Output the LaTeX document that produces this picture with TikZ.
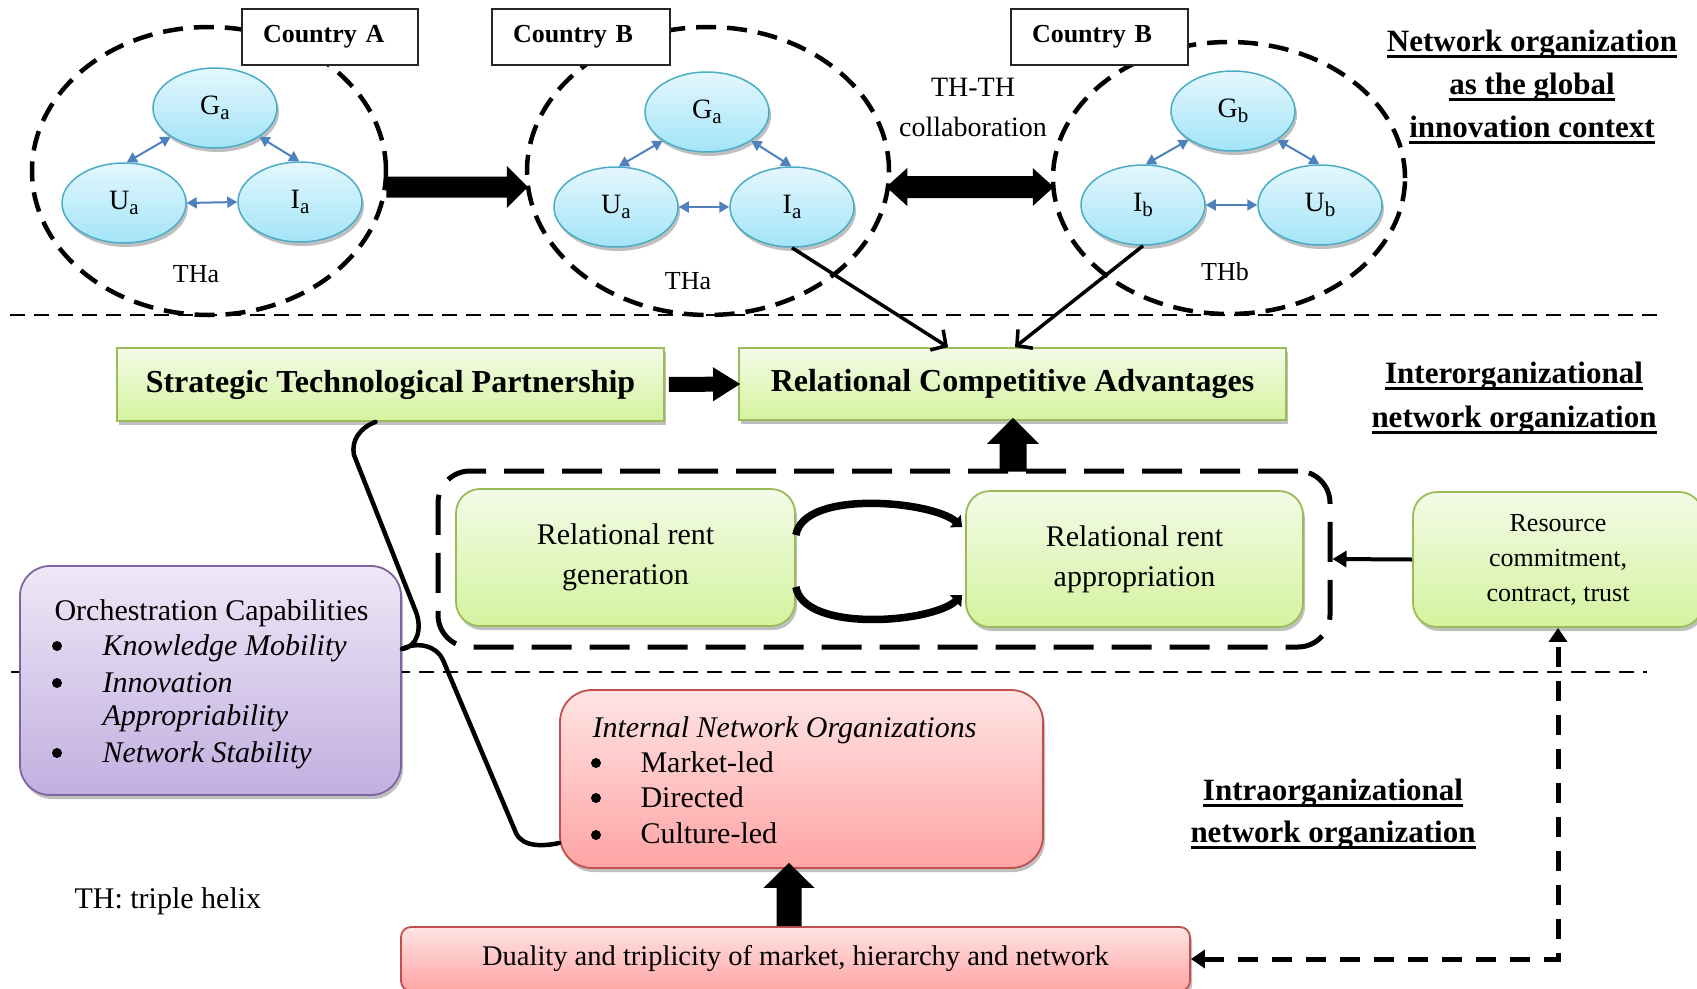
\documentclass[tikz,border=0pt]{standalone}
\usepackage{fontspec}
\setmainfont{Liberation Serif}
\usetikzlibrary{shapes.geometric,arrows.meta,calc,shadows}

\definecolor{helixtop}{HTML}{E4F7FD}
\definecolor{helixbot}{HTML}{A3E4F8}
\definecolor{helixline}{HTML}{4BACC6}
\definecolor{linkblue}{HTML}{4F81BD}
\definecolor{greentop}{HTML}{F3FBE7}
\definecolor{greenbot}{HTML}{D4F39E}
\definecolor{greenline}{HTML}{9BBB59}
\definecolor{violettop}{HTML}{EEE8F7}
\definecolor{violetbot}{HTML}{C2AFE0}
\definecolor{violetline}{HTML}{8064A2}
\definecolor{rosetop}{HTML}{FFE4E4}
\definecolor{rosebot}{HTML}{FFA4A4}
\definecolor{roseline}{HTML}{C0504D}

\newcommand\setfs[2]{\fontsize{#1}{#2}\selectfont}
\newcommand\helixsub[2]{#1\raisebox{-5pt}{\setfs{21}{21}#2}}
\newsavebox\ulinebox
\newcommand\thickul[1]{\sbox\ulinebox{#1}\rlap{\rule[-7pt]{\wd\ulinebox}{3.5pt}}\usebox\ulinebox}

% filled block arrow: from, to, half shaft, half head, head length
\newcommand\blkarrow[5]{%
  \path ($(#2)!#5!(#1)$) coordinate (bkhead);
  \fill ($(#1)!#3!90:(#2)$) -- ($(bkhead)!#3!90:(#2)$) -- ($(bkhead)!#4!90:(#2)$) -- (#2)
    -- ($(bkhead)!#4!-90:(#2)$) -- ($(bkhead)!#3!-90:(#2)$) -- ($(#1)!#3!-90:(#2)$) -- cycle;}
% filled double-headed block arrow
\newcommand\blkdarrow[5]{%
  \path ($(#2)!#5!(#1)$) coordinate (bkhead) ($(#1)!#5!(#2)$) coordinate (bktail);
  \fill (#1) -- ($(bktail)!#4!90:(#2)$) -- ($(bktail)!#3!90:(#2)$) -- ($(bkhead)!#3!90:(#2)$)
    -- ($(bkhead)!#4!90:(#2)$) -- (#2) -- ($(bkhead)!#4!-90:(#2)$) -- ($(bkhead)!#3!-90:(#2)$)
    -- ($(bktail)!#3!-90:(#2)$) -- ($(bktail)!#4!-90:(#2)$) -- cycle;}

\tikzset{
  softshadow/.style={drop shadow={shadow xshift=2pt, shadow yshift=-4pt, opacity=0.25, fill=black}},
  zone/.style={ellipse, draw, line width=4.5pt, dash pattern=on 20pt off 11pt, inner sep=0pt},
  helix/.style={ellipse, draw=helixline, line width=1.5pt, top color=helixtop, bottom color=helixbot,
    minimum width=124pt, minimum height=80pt, inner sep=0pt, softshadow, font=\setfs{28}{30}},
  country/.style={draw=black!85, line width=1.2pt, fill=white, minimum height=56pt, inner xsep=21pt,
    inner ysep=0pt, align=left, font=\bfseries\setfs{26}{28}},
  link/.style={draw=linkblue, line width=2pt, {Triangle[length=10pt,width=11pt]}-{Triangle[length=10pt,width=11pt]}},
  sep/.style={line width=1.5pt, dash pattern=on 15pt off 9pt},
  greenbox/.style={draw=greenline, line width=1.8pt, top color=greentop, bottom color=greenbot,
    inner sep=0pt, softshadow},
  violetbox/.style={draw=violetline, line width=1.8pt, top color=violettop, bottom color=violetbot,
    inner sep=0pt, rounded corners=30pt, softshadow},
  rosebox/.style={draw=roseline, line width=1.8pt, top color=rosetop, bottom color=rosebot,
    inner sep=0pt, softshadow},
  body/.style={font=\setfs{30}{30}},
  dot/.style={circle, fill=black, inner sep=0pt, minimum size=10pt},
  heading/.style={font=\bfseries\setfs{31}{43}, align=center},
  feed/.style={line width=4pt, -{Triangle[length=14pt,width=16pt]}},
  toward/.style={line width=3.5pt, -{Straight Barb[length=11pt,width=24pt]}},
  cycle arrow/.style={line width=7.5pt, -{Triangle[length=9pt,width=16pt]}},
  brace/.style={line width=4.5pt, line join=round, line cap=round},
  loopback/.style={line width=5pt, dash pattern=on 20pt off 14pt,
    {Triangle[length=14pt,width=18pt]}-{Triangle[length=14pt,width=18pt]}},
}

\begin{document}
\begin{tikzpicture}[x=1pt, y=-1pt]
\useasboundingbox (0,0) rectangle (1697,988);

% level separators
\coordinate (s1l) at (10,315);  \coordinate (s1r) at (1661,315);
\coordinate (s2l) at (11,672);  \coordinate (s2r) at (1647,672);
\draw[sep] (s1l) -- (s1r);
\draw[sep] (s2l) -- (s2r);

% triple helix regions
\node[zone, minimum width=354pt, minimum height=288pt] (zA) at (209,171) {};
\node[zone, minimum width=362pt, minimum height=288pt] (zB) at (708,171) {};
\node[zone, minimum width=352pt, minimum height=272pt] (zC) at (1229,178) {};

% helix actors
\node[helix] (GA) at (215,108) {\helixsub{G}{a}};
\node[helix] (UA) at (124,203) {\helixsub{U}{a}};
\node[helix] (IA) at (300,202) {\helixsub{I}{a}};
\node[helix] (GB) at (707,112) {\helixsub{G}{a}};
\node[helix] (UB) at (616,207) {\helixsub{U}{a}};
\node[helix] (IB) at (792,207) {\helixsub{I}{a}};
\node[helix] (GC) at (1233,111) {\helixsub{G}{b}};
\node[helix] (IC) at (1143,205) {\helixsub{I}{b}};
\node[helix] (UC) at (1320,205) {\helixsub{U}{b}};

\draw[link] (UA.86) -- (GA.213);
\draw[link] (GA.-33) -- (IA.91);
\draw[link] (UA.east) -- (IA.west);
\draw[link] (UB.86) -- (GB.213);
\draw[link] (GB.-33) -- (IB.91);
\draw[link] (UB.east) -- (IB.west);
\draw[link] (IC.86) -- (GC.213);
\draw[link] (GC.-33) -- (UC.91);
\draw[link] (IC.east) -- (UC.west);

\node[font=\setfs{26}{28}] (lblA) at (196,274) {THa};
\node[font=\setfs{26}{28}] (lblB) at (688,281) {THa};
\node[font=\setfs{26}{28}] (lblC) at (1225,272) {THb};

% country tags
\node[country, text width=134pt] (cA) at (330,37) {Country A};
\node[country, text width=136pt] (cB) at (581,37) {Country B};
\node[country, text width=135pt] (cC) at (1099.5,37) {Country B};

\node[font=\setfs{28}{40}, align=center] (thth) at (973,107) {TH-TH\\collaboration};

% block arrows between the helices
\coordinate (h2s) at ([xshift=-2pt,yshift=-16pt]zA.east);
\coordinate (h2e) at ([xshift=3pt,yshift=-16pt]zB.west);
\blkarrow{h2s}{h2e}{10.5pt}{21pt}{21pt}
\coordinate (d1) at ([xshift=-5pt,yshift=-16pt]zB.east);
\coordinate (d2) at ([xshift=3pt,yshift=-9pt]zC.west);
\blkdarrow{d1}{d2}{11pt}{19pt}{21pt}

% level headings
\node[heading] (hdr1) at (1532,87) {\thickul{Network organization}\\\thickul{as the global}\\\thickul{innovation context}};
\node[heading, font=\bfseries\setfs{31}{44}] (hdr2) at (1514,398) {\thickul{Interorganizational}\\\thickul{network organization}};
\node[heading, font=\bfseries\setfs{31}{42}] (hdr3) at (1333,814) {\thickul{Intraorganizational}\\\thickul{network organization}};

% interorganizational level
\node[greenbox, minimum width=547pt, minimum height=73pt, font=\bfseries\setfs{32}{36}] (stp) at (390.5,384.5) {Strategic Technological Partnership};
\node[greenbox, minimum width=547pt, minimum height=72pt, font=\bfseries\setfs{32}{36}] (rca) at (1012.5,384) {Relational Competitive Advantages};

\node[draw, line width=5pt, dash pattern=on 40pt off 18pt, rounded corners=32pt, minimum width=892pt, minimum height=176pt, inner sep=0pt] (zone) at (884,559) {};

\node[greenbox, rounded corners=24pt, minimum width=339pt, minimum height=137pt, align=center, font=\setfs{30}{40}] (rrg) at (625.5,557.5) {Relational rent\\generation};
\node[greenbox, rounded corners=24pt, minimum width=337pt, minimum height=136pt, align=center, font=\setfs{30}{40}] (rra) at (1134.5,559) {Relational rent\\appropriation};
\node[greenbox, rounded corners=24pt, minimum width=290pt, minimum height=135pt, align=center, font=\setfs{26}{35}] (res) at (1558,559.5) {Resource\\commitment,\\contract, trust};

\draw[toward] (IB.south) -- ([xshift=-64.5pt]rca.north);
\draw[toward] (IC.south) -- ([xshift=2.5pt]rca.north);

\coordinate (h1s) at ([xshift=4pt]stp.east);
\coordinate (h1e) at ([xshift=2pt]rca.west);
\blkarrow{h1s}{h1e}{7.5pt}{17pt}{27pt}

\coordinate (u1s) at ([xshift=129pt,yshift=-3pt]zone.north);
\coordinate (u1e) at ([xshift=0.5pt,yshift=3pt]rca.south);
\blkarrow{u1s}{u1e}{13.5pt}{26pt}{26pt}

% rent generation / appropriation loop
\draw[cycle arrow] ([yshift=22.5pt]rrg.east) .. controls +(8,-46) and +(-30,-26) .. ([xshift=-3pt,yshift=32pt]rra.west);
\draw[cycle arrow] ([yshift=-29.5pt]rrg.east) .. controls +(8,46) and +(-30,28) .. ([xshift=-3pt,yshift=-36pt]rra.west);

\draw[feed] (res.west) -- (zone.east);

% orchestration capabilities
\node[violetbox, minimum width=381pt, minimum height=229pt] (orch) at (210.5,680.5) {};
\node[body, anchor=base west] (oc0) at (51,620) {Orchestration Capabilities};
\node[dot] (ob1) at (57,646) {};
\node[body, anchor=base west] (oc1) at (99,655) {\textit{Knowledge Mobility}};
\node[dot] (ob2) at (57,683) {};
\node[body, anchor=base west] (oc2) at (99,692) {\textit{Innovation}};
\node[body, anchor=base west] (oc3) at (99,725) {\textit{Appropriability}};
\node[dot] (ob4) at (57,753) {};
\node[body, anchor=base west] (oc4) at (99,762) {\textit{Network Stability}};

% intraorganizational level
\node[rosebox, rounded corners=32pt, minimum width=483pt, minimum height=178pt] (ino) at (801.5,779) {};
\node[body, anchor=base west] (in0) at (589,737) {\textit{Internal Network Organizations}};
\node[dot] (ib1) at (596,763) {};
\node[body, anchor=base west] (in1) at (637,772) {Market-led};
\node[dot] (ib2) at (596,798) {};
\node[body, anchor=base west] (in2) at (637,807) {Directed};
\node[dot] (ib3) at (596,835) {};
\node[body, anchor=base west] (in3) at (637,843) {Culture-led};

\node[rosebox, rounded corners=10pt, minimum width=789pt, minimum height=64pt, font=\setfs{28.5}{30}] (dual) at (795.5,959) {Duality and triplicity of market, hierarchy and network};

\coordinate (u2s) at ([xshift=-6.5pt]dual.north);
\coordinate (u2e) at ([xshift=-12.5pt,yshift=6pt]ino.south);
\blkarrow{u2s}{u2e}{12.5pt}{25.5pt}{25pt}

\draw[loopback] (dual.east) -| (res.south);

\node[body, anchor=base west] (note) at (71,908) {TH: triple helix};

% bracket tying the partnership, the capabilities and the internal organizations
\draw[brace] ([xshift=-15pt]stp.south) .. controls +(-16,6) and +(-3,-14) .. (354,455)
  -- (416,612) .. controls +(6,16) and +(16,-2) .. ([yshift=31.5pt]orch.east)
  .. controls +(16,-8) and +(-6,-14) .. (443,660)
  -- (516,833) .. controls +(7,15) and +(-14,3) .. ([yshift=-64pt]ino.west);

\end{tikzpicture}
\end{document}
